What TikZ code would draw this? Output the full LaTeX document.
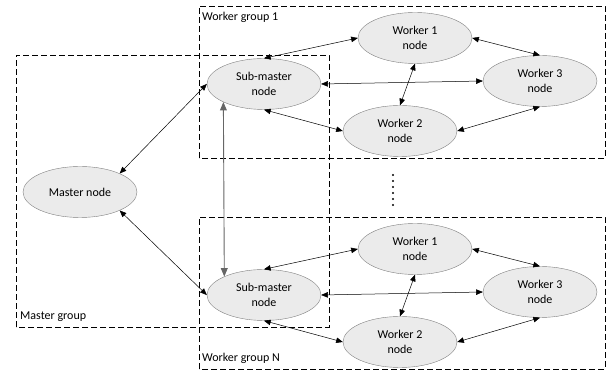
\documentclass[tikz,border=0pt]{standalone}
\usepackage{fontspec}
\setmainfont{Carlito}
\usetikzlibrary{arrows,shapes,calc}
% one worker group: #1 = height of its sub-master, #2 = name suffix,
% #3 = label, #4 = height of the label above the sub-master
\newcommand*{\WorkerGroup}[4]{
  \draw[group] (199,#1-74) rectangle (605,#1+78);
  \node[grouplabel] (lbl#2) at (202,#1+#4) {#3};
  \node[worker] (sub#2) at (264,#1) {Sub-master\\node};
  \node[worker] (wone#2) at (415,#1+46) {Worker 1\\node};
  \node[worker] (wthree#2) at (540,#1+3) {Worker 3\\node};
  \node[worker] (wtwo#2) at (400,#1-47) {Worker 2\\node};
  \draw[link] (sub#2.north) -- (wone#2.west);
  \draw[link] (wone#2.east) -- (wthree#2.north);
  \draw[link] (sub#2.east) -- (wthree#2.west);
  \draw[link] (wone#2.south) -- (wtwo#2.north);
  \draw[link] (sub#2.south) -- (wtwo#2.west);
  \draw[link] (wtwo#2.east) -- (wthree#2.south);
}
\begin{document}
\begin{tikzpicture}[x=1pt,y=1pt]
\tikzstyle{worker}=[ellipse,draw=black!50,fill=black!8,minimum width=114pt,
  minimum height=51pt,inner sep=0pt,align=center,
  font=\fontsize{12}{15}\selectfont]
\tikzstyle{group}=[dash pattern=on 6pt off 3pt,line width=0.8pt]
\tikzstyle{grouplabel}=[anchor=west,inner sep=0pt,font=\fontsize{12}{14}\selectfont]
\tikzset{>={triangle 45}}
\tikzstyle{link}=[<->,line width=0.5pt]
\useasboundingbox (0,0) rectangle (608,374);
\draw[group] (16,47) rectangle (329,319);
\node[grouplabel] (mlbl) at (20,57) {Master group};
\WorkerGroup{290}{1}{Worker group 1}{67}
\WorkerGroup{79}{N}{Worker group N}{-63}
\node[worker] (master) at (80,182) {Master node};
\draw[link] (master.25) -- (sub1.west);
\draw[link] (master.-25) -- (subN.west);
\draw[link,draw=black!60,line width=0.9pt] (sub1.204.8) -- (subN.155.2);
\foreach \i in {0,...,5}
  \fill (393,199-6*\i) circle (1.1);
\end{tikzpicture}
\end{document}
